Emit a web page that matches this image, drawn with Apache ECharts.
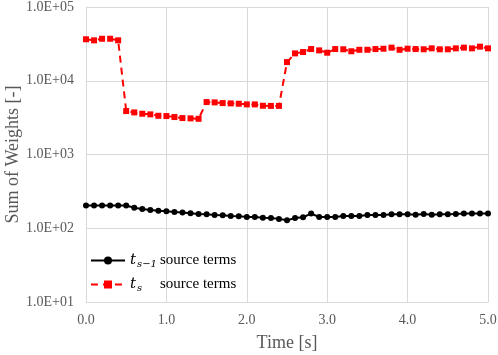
<!DOCTYPE html>
<html><head><meta charset="utf-8">
<script src="https://cdn.jsdelivr.net/npm/echarts@6/dist/echarts.min.js"></script>
<style>html,body{margin:0;padding:0;background:#fff}#c{width:498px;height:355px}</style>
</head><body><div id="c"></div>
<script>
var times = [0.0,0.1,0.2,0.3,0.4,0.5,0.6,0.7,0.8,0.9,1.0,1.1,1.2,1.3,1.4,1.5,1.6,1.7,1.8,1.9,2.0,2.1,2.2,2.3,2.4,2.5,2.6,2.7,2.8,2.9,3.0,3.1,3.2,3.3,3.4,3.5,3.6,3.7,3.8,3.9,4.0,4.1,4.2,4.3,4.4,4.5,4.6,4.7,4.8,4.9,5.0];
var tsPrev = [203,203,203,203,203,203,190,183,177,173,170,166,163,160,156,155,151,150,147,146,142,142,139,138,134,128,138,141,158,142,142,142,147,147,147,151,151,151,155,155,155,153,156,153,155,155,156,158,158,158,158];
var tsCur = [36500,35300,37100,37100,35300,3880,3720,3570,3500,3350,3320,3220,3120,3090,3050,5140,5090,4980,4930,4880,4780,4780,4580,4560,4560,17900,23500,24500,26900,25800,24000,26900,26700,25100,26300,26300,26900,27200,28100,26300,27200,26900,26700,27500,26700,26700,27500,28100,27500,29000,27500];
var xTicks = ['0.0','1.0','2.0','3.0','4.0','5.0'];
var yTicks = ['1.0E+01','1.0E+02','1.0E+03','1.0E+04','1.0E+05'];
var seriesNames = ['prev','cur'];

function pairs(v){ return times.map(function(t,i){return [t,v[i]];}); }
var serif = 'Liberation Serif';
var chart = echarts.init(document.getElementById('c'));
chart.setOption({
  animation:false,
  textStyle:{fontFamily:serif},
  grid:{left:86,right:10,top:7,bottom:53,outerBoundsMode:'none',containLabel:false},
  xAxis:{type:'value',min:0,max:5,interval:1,
    name:'Time [s]',nameLocation:'middle',nameGap:32,nameMoveOverlap:false,
    nameTextStyle:{fontFamily:serif,fontSize:18,color:'#595959'},
    axisLine:{show:true,lineStyle:{color:'#d9d9d9'}},
    axisTick:{show:false},
    axisLabel:{fontFamily:serif,fontSize:14,color:'#595959',margin:11,
      formatter:function(v){return xTicks[Math.round(v)];}},
    splitLine:{show:true,lineStyle:{color:'#d9d9d9'}}},
  yAxis:{type:'log',logBase:10,min:10,max:100000,
    name:'Sum of Weights [-]',nameLocation:'middle',nameGap:64,nameMoveOverlap:false,
    nameTextStyle:{fontFamily:serif,fontSize:18,color:'#595959'},
    axisLine:{show:true,lineStyle:{color:'#d9d9d9'}},
    axisTick:{show:false},
    axisLabel:{fontFamily:serif,fontSize:14,color:'#595959',margin:12,
      formatter:function(v){return yTicks[Math.round(Math.log10(v))-1];}},
    splitLine:{show:true,lineStyle:{color:'#d9d9d9'}}},
  legend:{left:85,top:248,orient:'vertical',itemGap:8,itemWidth:34,itemHeight:10,
    data:seriesNames,
    formatter:function(n){
      return n==='prev' ? '{t|t}{s|s−1}{r|source terms}' : '{t|t}{s2|s}{r|source terms}';
    },
    textStyle:{fontFamily:serif,fontSize:14,color:'#000',
      rich:{
        t:{fontFamily:'DejaVu Serif',fontStyle:'italic',fontSize:15,color:'#000'},
        s:{fontFamily:'DejaVu Serif',fontStyle:'italic',fontSize:10,color:'#000',padding:[7,0,0,1],width:23},
        s2:{fontFamily:'DejaVu Serif',fontStyle:'italic',fontSize:10,color:'#000',padding:[7,0,0,1],width:23},
        r:{fontFamily:serif,fontSize:15,color:'#000'}
      }}},
  series:[
    {name:'prev',type:'line',data:pairs(tsPrev),symbol:'circle',symbolSize:6,
      lineStyle:{color:'#000',width:2},itemStyle:{color:'#000'}},
    {name:'cur',type:'line',data:pairs(tsCur),symbol:'rect',symbolSize:6,
      lineStyle:{color:'#ff0000',width:2,type:[7,5]},itemStyle:{color:'#ff0000'}}
  ]
});
</script></body></html>
